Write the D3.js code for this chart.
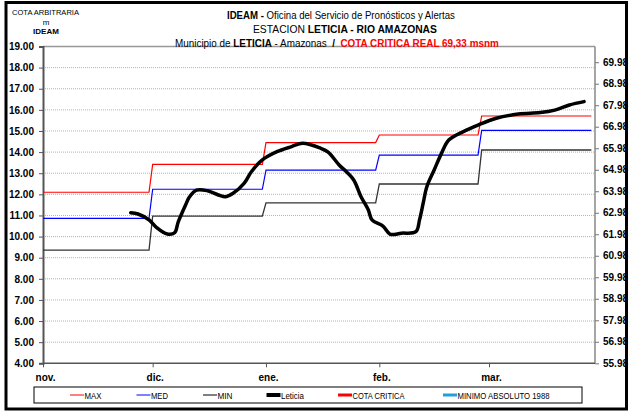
<!DOCTYPE html>
<html>
<head>
<meta charset="utf-8">
<script src="https://cdn.jsdelivr.net/npm/d3@7"></script>
<style>
  html, body { margin: 0; padding: 0; background: #fff; }
  svg { display: block; }
</style>
</head>
<body>
<svg id="chart" width="629" height="411"></svg>
<script>
// Day index counted from 1 November
const monthLabels = ["nov.", "dic.", "ene.", "feb.", "mar."];
const monthTickDays = [0, 30, 61, 92, 122];
const monthStartDays = [0, 30, 61, 92, 120];
const lastDay = 150;

// Monthly reference levels (m, arbitrary gauge)
const maxLevels = [12.10, 13.42, 14.45, 14.81, 15.71];
const medLevels = [10.86, 12.24, 13.15, 13.86, 15.03];
const minLevels = [9.36, 10.97, 11.60, 12.49, 14.10];

// Observed stage at Leticia
const leticiaDays = [24, 26, 29, 31, 34, 36, 37, 39, 40, 42, 45, 48, 50, 52, 55, 57, 60, 64, 68, 71,
  76, 78, 81, 83, 85, 87, 89, 90, 93, 95, 98, 102, 103, 104, 105, 107, 109, 111, 115, 119,
  124, 130, 136, 140, 144, 148];
const leticiaLevels = [11.13, 11.07, 10.79, 10.44, 10.12, 10.18, 10.70, 11.50, 11.86, 12.20, 12.17, 11.97, 11.89, 12.05, 12.52, 13.07, 13.63, 14.02, 14.26, 14.42,
  14.18, 14.00, 13.39, 13.07, 12.68, 11.89, 11.26, 10.79, 10.50, 10.11, 10.16, 10.23, 10.79, 11.58, 12.36, 13.15, 13.94, 14.57, 14.97, 15.28,
  15.60, 15.80, 15.87, 15.99, 16.23, 16.39];

const leftTicks = [4, 5, 6, 7, 8, 9, 10, 11, 12, 13, 14, 15, 16, 17, 18, 19];
const rightTicks = [55.98, 56.98, 57.98, 58.98, 59.98, 60.98, 61.98, 62.98, 63.98, 64.98, 65.98, 66.98, 67.98, 68.98, 69.98];

const legendLabels = ["MAX", "MED", "MIN", "Leticia", "COTA CRITICA", "MINIMO ABSOLUTO 1988"];

// ---- layout ----
const svg = d3.select("#chart");
const plot = { left: 43, right: 595, top: 46.5, bottom: 363.3 };
const narrow = '"Liberation Sans Narrow","Arial Narrow","Liberation Sans",Arial,sans-serif';
const regular = '"Liberation Sans",Arial,sans-serif';

const x = d3.scaleLinear().domain([0, 151]).range([plot.left, plot.right]);
const yL = d3.scaleLinear().domain([4, 19]).range([plot.bottom, plot.top]);
const yR = d3.scaleLinear().domain([55.98, 70.71]).range([plot.bottom, plot.top]);

// outer frame
svg.append("rect").attr("x", 6).attr("y", 2.5).attr("width", 620.5).attr("height", 406.5)
  .attr("fill", "#fff").attr("stroke", "#000").attr("stroke-width", 3);

// dotted gridlines
svg.append("g").selectAll("line").data(leftTicks.filter(t => t > 4 && t < 19)).join("line")
  .attr("x1", plot.left).attr("x2", plot.right)
  .attr("y1", d => yL(d)).attr("y2", d => yL(d))
  .attr("stroke", "#b4b4b4").attr("stroke-width", 1).attr("stroke-dasharray", "1,1");

// top border of the plot area
svg.append("line").attr("x1", plot.left).attr("x2", plot.right)
  .attr("y1", plot.top).attr("y2", plot.top)
  .attr("stroke", "#999").attr("stroke-width", 1.5);

// left axis
const leftAxis = d3.axisLeft(yL).tickValues(leftTicks).tickFormat(d3.format(".2f")).tickSize(4).tickPadding(5);
const gL = svg.append("g").attr("transform", `translate(${plot.left},0)`).call(leftAxis);
gL.select(".domain").attr("stroke", "#555").attr("stroke-width", 2);
gL.selectAll(".tick line").attr("stroke", "#555");
gL.selectAll("text").attr("font-family", regular).attr("font-weight", "bold").attr("font-size", 10).attr("fill", "#000");

// right axis
const rightAxis = d3.axisRight(yR).tickValues(rightTicks).tickFormat(d3.format(".2f")).tickSize(4).tickPadding(4);
const gR = svg.append("g").attr("transform", `translate(${plot.right},0)`).call(rightAxis);
gR.select(".domain").attr("stroke", "#888").attr("stroke-width", 1.5).attr("d", `M0,${plot.top}V${plot.bottom}`);
gR.selectAll(".tick line").attr("stroke", "#777");
gR.selectAll("text").attr("font-family", regular).attr("font-weight", "bold").attr("font-size", 10).attr("fill", "#000");

// bottom axis
const bottomAxis = d3.axisBottom(x).tickValues(monthTickDays).tickFormat((d, i) => monthLabels[i]).tickSize(4).tickPadding(7);
const gB = svg.append("g").attr("transform", `translate(0,${plot.bottom})`).call(bottomAxis);
gB.select(".domain").attr("stroke", "#555").attr("stroke-width", 1.5).attr("d", `M${plot.left},0H${plot.right}`);
gB.selectAll(".tick line").attr("stroke", "#555");
gB.selectAll("text").attr("font-family", regular).attr("font-weight", "bold").attr("font-size", 10)
  .attr("fill", "#000").attr("dx", 2);

// monthly step series
function stepPoints(levels) {
  const pts = [];
  levels.forEach((v, i) => {
    const start = monthStartDays[i];
    const end = i + 1 < monthStartDays.length ? monthStartDays[i + 1] - 1 : lastDay;
    pts.push([start, v], [end, v]);
  });
  return pts;
}
const lineGen = d3.line().x(d => x(d[0])).y(d => yL(d[1]));
const steps = [
  { levels: minLevels, color: "#333", width: 1.3 },
  { levels: medLevels, color: "#0000ff", width: 1.2 },
  { levels: maxLevels, color: "#ff0000", width: 1.2 }
];
steps.forEach(s => {
  svg.append("path").attr("d", lineGen(stepPoints(s.levels)))
    .attr("fill", "none").attr("stroke", s.color).attr("stroke-width", s.width);
});

// Leticia observed stage
const leticia = leticiaDays.map((d, i) => [d, leticiaLevels[i]]);
svg.append("path")
  .attr("d", d3.line().x(d => x(d[0])).y(d => yL(d[1])).curve(d3.curveCatmullRom.alpha(0.5))(leticia))
  .attr("fill", "none").attr("stroke", "#000").attr("stroke-width", 3.5)
  .attr("stroke-linejoin", "round").attr("stroke-linecap", "round");

// Title lines: runs laid out side by side, then the whole line is condensed horizontally
function titleLine(cx, y, parts, width) {
  const outer = svg.append("g");
  const g = outer.append("g");
  let cursor = 0;
  parts.forEach(p => {
    const t = g.append("text").attr("x", cursor).attr("y", y)
      .attr("font-family", narrow).attr("font-size", 11)
      .attr("font-weight", p.b ? "bold" : "normal").attr("fill", p.c || "#000")
      .text(p.t.trim());
    cursor += t.node().getComputedTextLength() + (p.gap || 0);
  });
  const k = width / cursor;
  outer.attr("transform", `translate(${cx - width / 2},0) scale(${k},1)`);
}
titleLine(341, 19, [{ t: "IDEAM -", b: true, gap: 3 }, { t: "Oficina del Servicio de Pronósticos y Alertas" }], 228);
titleLine(345, 33, [{ t: "ESTACION", gap: 3 }, { t: "LETICIA - RIO AMAZONAS", b: true }], 184);
titleLine(337, 47.5, [{ t: "Municipio de", gap: 3 }, { t: "LETICIA", b: true, gap: 3 }, { t: "- Amazonas", gap: 6 },
  { t: "/", b: true, gap: 6 }, { t: "COTA CRITICA REAL 69,33 msnm", b: true, c: "#ff0000" }], 324);

// vertical unit caption
svg.append("text").attr("x", 12).attr("y", 15).attr("font-family", narrow).attr("font-size", 8)
  .attr("textLength", 67).attr("lengthAdjust", "spacingAndGlyphs").text("COTA ARBITRARIA");
svg.append("text").attr("x", 46).attr("y", 25).attr("text-anchor", "middle").attr("font-family", narrow)
  .attr("font-size", 8).text("m");
svg.append("text").attr("x", 46).attr("y", 34).attr("text-anchor", "middle").attr("font-family", narrow)
  .attr("font-size", 8).attr("font-weight", "bold").text("IDEAM");

// legend
const legend = svg.append("g");
legend.append("rect").attr("x", 34).attr("y", 387).attr("width", 548).attr("height", 16)
  .attr("fill", "#fff").attr("stroke", "#000").attr("stroke-width", 1);
const legendStyles = [
  { x: 70, color: "#ff0000", width: 1, len: 17 },
  { x: 136.5, color: "#0000ff", width: 1, len: 17 },
  { x: 203, color: "#000", width: 1, len: 15 },
  { x: 266.5, color: "#000", width: 4, len: 23 },
  { x: 338, color: "#ff0000", width: 3, len: 52 },
  { x: 443, color: "#1fa0d8", width: 3, len: 92 }
];
legendLabels.forEach((lab, i) => {
  const s = legendStyles[i];
  legend.append("line").attr("x1", s.x).attr("x2", s.x + 14).attr("y1", 395).attr("y2", 395)
    .attr("stroke", s.color).attr("stroke-width", s.width);
  legend.append("text").attr("x", s.x + 14.5).attr("y", 398.5).attr("font-family", narrow)
    .attr("font-size", 9).attr("textLength", s.len).attr("lengthAdjust", "spacingAndGlyphs").text(lab);
});
</script>
</body>
</html>
